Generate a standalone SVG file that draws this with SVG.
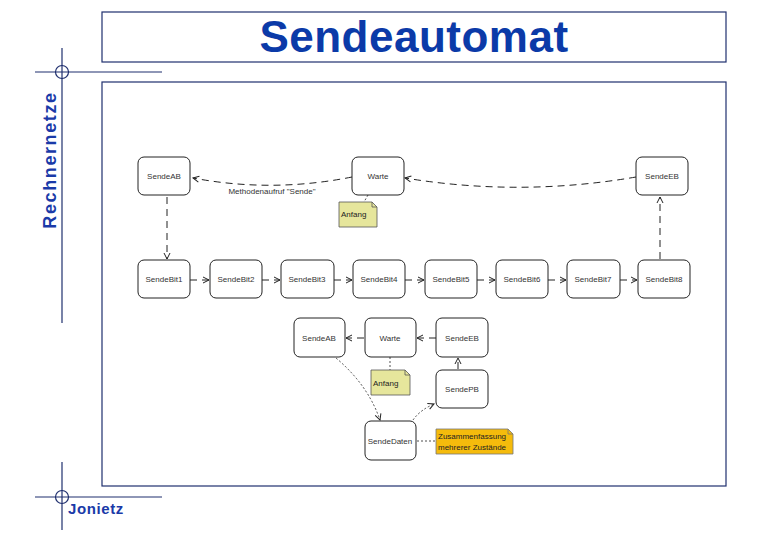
<svg xmlns="http://www.w3.org/2000/svg" width="780" height="540" viewBox="0 0 780 540">
<style>
.frame{fill:none;stroke:#1f2f6e;stroke-width:1.2}
.node rect{fill:#fff;stroke:#222;stroke-width:1}
.node text{font-family:"Liberation Sans",Arial,sans-serif;font-size:8px;fill:#333;text-anchor:middle}
.note text{font-family:"Liberation Sans",Arial,sans-serif;font-size:8px;fill:#222}
.e{fill:none;stroke:#222;stroke-width:1;stroke-dasharray:7,5}
.d{fill:none;stroke:#222;stroke-width:0.8;stroke-dasharray:2,2}
.lbl{font-family:"Liberation Sans",Arial,sans-serif;font-size:8px;fill:#333;text-anchor:middle}
</style>
<defs>
<marker id="arr" markerWidth="8" markerHeight="8" refX="7" refY="4" orient="auto" markerUnits="userSpaceOnUse">
<path d="M1,1 L7,4 L1,7" fill="none" stroke="#222" stroke-width="1"/>
</marker>
</defs>
<rect width="780" height="540" fill="#fff"/>
<g id="frame">
<rect class="frame" x="102" y="12" width="624" height="50"/>
<rect class="frame" x="102" y="82" width="624" height="404"/>
<line class="frame" x1="62" y1="48" x2="62" y2="323"/>
<line class="frame" x1="35" y1="72" x2="162" y2="72"/>
<circle class="frame" cx="62" cy="72" r="6.5" stroke-width="1.6"/>
<line class="frame" x1="62" y1="462" x2="62" y2="530"/>
<line class="frame" x1="35" y1="497" x2="162" y2="497"/>
<circle class="frame" cx="62" cy="497" r="6.5" stroke-width="1.6"/>
<text x="414" y="52" font-family="Liberation Sans,Arial,sans-serif" font-size="44" font-weight="bold" fill="#0b3aa8" text-anchor="middle" letter-spacing="0.5">Sendeautomat</text>
<text transform="translate(56,160) rotate(-90)" font-family="Liberation Sans,Arial,sans-serif" font-size="18" font-weight="bold" fill="#1a3aa8" text-anchor="middle" letter-spacing="1.6">Rechnernetze</text>
<text x="68" y="514" font-family="Liberation Sans,Arial,sans-serif" font-size="15" font-weight="bold" fill="#1a3aa8" letter-spacing="0.6">Jonietz</text>
</g>
<g id="connectors">
<path class="e" d="M352,177 Q272,193 193,178" marker-end="url(#arr)"/>
<text class="lbl" x="272" y="194">Methodenaufruf "Sende"</text>
<path class="e" d="M636,177 Q520,197 405,178" marker-end="url(#arr)"/>
<path class="e" d="M167,197 L167,259" marker-end="url(#arr)"/>
<path class="e" d="M660,259 L660,197" marker-end="url(#arr)"/>
<path class="e" d="M190,280 L209,280" marker-end="url(#arr)"/>
<path class="e" d="M262,280 L280,280" marker-end="url(#arr)"/>
<path class="e" d="M334,280 L352,280" marker-end="url(#arr)"/>
<path class="e" d="M405,280 L424,280" marker-end="url(#arr)"/>
<path class="e" d="M477,280 L495,280" marker-end="url(#arr)"/>
<path class="e" d="M548,280 L566,280" marker-end="url(#arr)"/>
<path class="e" d="M620,280 L637,280" marker-end="url(#arr)"/>
<path class="d" d="M368,195 L364,202"/>
<path class="e" d="M364,338 L346,338" stroke-dasharray="4,4" marker-end="url(#arr)"/>
<path class="e" d="M436,338 L417,338" stroke-dasharray="4,4" marker-end="url(#arr)"/>
<path class="e" d="M458,369 L458,358" stroke-dasharray="4,3" marker-end="url(#arr)"/>
<path class="d" d="M390,357 L390,370"/>
<path class="d" d="M336,358 Q368,385 380,420" marker-end="url(#arr)"/>
<path class="d" d="M413,420 Q420,410 434,404" marker-end="url(#arr)"/>
<path class="d" d="M417,441 L436,441" stroke-dasharray="3,2"/>
</g>
<g id="SendeAB" class="node"><rect x="138" y="157" width="52" height="38" rx="6"/><text x="164" y="179">SendeAB</text></g>
<g id="Warte" class="node"><rect x="352" y="157" width="52" height="38" rx="6"/><text x="378" y="179">Warte</text></g>
<g id="SendeEB" class="node"><rect x="636" y="157" width="52" height="38" rx="6"/><text x="662" y="179">SendeEB</text></g>
<g id="Anfang1" class="note"><path d="M339,202 H372 L377,207 V227 H339 Z" fill="#e6e69c" stroke="#555" stroke-width="0.8"/><path d="M372,202 V207 H377" fill="none" stroke="#555" stroke-width="0.8"/><text x="341" y="217">Anfang</text></g>
<g id="SendeBit1" class="node"><rect x="138" y="260" width="52" height="38" rx="6"/><text x="164" y="282">SendeBit1</text></g>
<g id="SendeBit2" class="node"><rect x="210" y="260" width="52" height="38" rx="6"/><text x="236" y="282">SendeBit2</text></g>
<g id="SendeBit3" class="node"><rect x="281" y="260" width="53" height="38" rx="6"/><text x="307" y="282">SendeBit3</text></g>
<g id="SendeBit4" class="node"><rect x="353" y="260" width="52" height="38" rx="6"/><text x="379" y="282">SendeBit4</text></g>
<g id="SendeBit5" class="node"><rect x="425" y="260" width="52" height="38" rx="6"/><text x="451" y="282">SendeBit5</text></g>
<g id="SendeBit6" class="node"><rect x="496" y="260" width="52" height="38" rx="6"/><text x="522" y="282">SendeBit6</text></g>
<g id="SendeBit7" class="node"><rect x="567" y="260" width="53" height="38" rx="6"/><text x="593" y="282">SendeBit7</text></g>
<g id="SendeBit8" class="node"><rect x="638" y="260" width="52" height="38" rx="6"/><text x="664" y="282">SendeBit8</text></g>
<g id="SendeAB2" class="node"><rect x="294" y="318" width="51" height="39" rx="6"/><text x="319" y="341">SendeAB</text></g>
<g id="Warte2" class="node"><rect x="365" y="318" width="51" height="39" rx="6"/><text x="390" y="341">Warte</text></g>
<g id="SendeEB2" class="node"><rect x="436" y="318" width="52" height="39" rx="6"/><text x="462" y="341">SendeEB</text></g>
<g id="SendePB" class="node"><rect x="436" y="370" width="52" height="38" rx="6"/><text x="462" y="392">SendePB</text></g>
<g id="Anfang2" class="note"><path d="M371,370 H405 L410,375 V395 H371 Z" fill="#e6e69c" stroke="#555" stroke-width="0.8"/><path d="M405,370 V375 H410" fill="none" stroke="#555" stroke-width="0.8"/><text x="373" y="386">Anfang</text></g>
<g id="SendeDaten" class="node"><rect x="365" y="421" width="51" height="39" rx="6"/><text x="390" y="444">SendeDaten</text></g>
<g id="Zusammenfassung" class="note"><path d="M436,429 H508 L513,434 V454 H436 Z" fill="#f5bb0c" stroke="#777" stroke-width="0.8"/><path d="M508,429 V434 H513" fill="none" stroke="#777" stroke-width="0.8"/><text x="438" y="439">Zusammenfassung</text><text x="438" y="450">mehrerer Zustände</text></g>
</svg>
